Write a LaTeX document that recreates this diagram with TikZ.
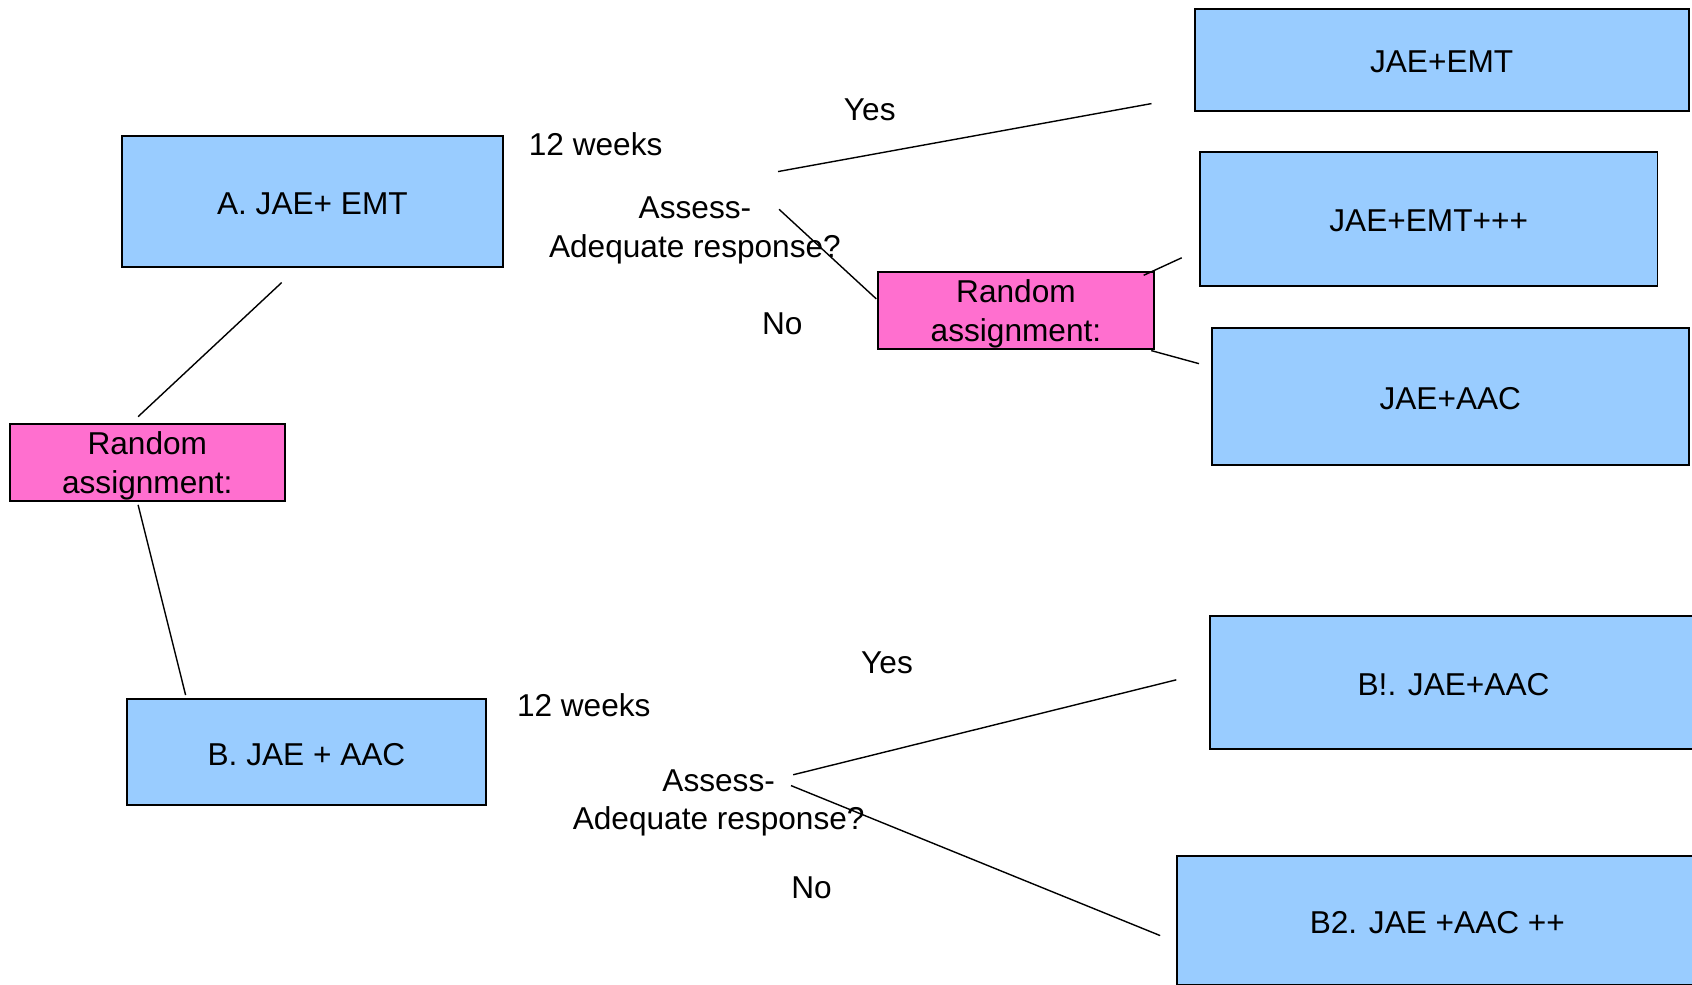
\documentclass[tikz,border=0pt]{standalone}
\usepackage{fontspec}
\setmainfont{Liberation Sans}
\definecolor{armblue}{HTML}{99CCFF}
\definecolor{randpink}{HTML}{FF6FCF}
\tikzset{
  base/.style={font=\fontsize{29.3}{36}\selectfont, align=center},
  armbox/.style={draw=black, line width=1.8pt, fill=armblue, inner sep=0pt},
  randbox/.style={draw=black, line width=1.8pt, fill=randpink, inner sep=0pt},
  lbl/.style={base, inner sep=0pt},
  link/.style={draw=black, line width=1.3pt}
}
\begin{document}
\begin{tikzpicture}[x=1pt,y=-1pt]
\useasboundingbox (0,0) rectangle (1568,912);
\clip (0,0) rectangle (1568,912);
\fill[white] (0,0) rectangle (1568,912);

% first randomisation and the two starting arms
\node[armbox, minimum width=353pt, minimum height=121pt] (A) at (289.5,186.5) {};
\node[lbl] (tA) at ([yshift=-2]A.center) {A. JAE+ EMT};
\node[randbox, minimum width=255pt, minimum height=71pt] (R1) at (136.5,428.5) {};
\node[lbl] (tR1) at ([yshift=-3.5]R1.center) {Random\\assignment:};
\node[armbox, minimum width=332pt, minimum height=98pt] (B) at (284,697) {};
\node[lbl] (tB) at ([yshift=-2]B.center) {B. JAE + AAC};

\draw[link] ([shift={(-28.5,14)}]A.south) -- ([shift={(-8.5,-6)}]R1.north);
\draw[link] ([shift={(-8.5,3)}]R1.south) -- ([shift={(-112,-3)}]B.north);

% arm A: assessment after 12 weeks
\node[lbl] (wa) at (552,134) {12 weeks};
\node[lbl] (qa) at (644,213.5) {Assess-\\Adequate response?};
\node[lbl] (ya) at (806,102) {Yes};
\node[lbl] (na) at (725,300.5) {No};

\node[armbox, minimum width=458pt, minimum height=95pt] (E1) at (1336,55.5) {};
\node[lbl] (tE1) at ([yshift=-1.5]E1.center) {JAE+EMT};
\node[randbox, minimum width=255pt, minimum height=71pt] (R2) at (941.5,287.5) {};
\node[lbl] (tR2) at ([yshift=-3.5]R2.center) {Random\\assignment:};
\node[armbox, minimum width=424pt, minimum height=124pt] (E2) at (1324,203) {};
\node[lbl] (tE2) at ([yshift=-2]E2.center) {JAE+EMT+++};
\node[armbox, minimum width=442pt, minimum height=127pt] (E3) at (1344,367.5) {};
\node[lbl] (tE3) at ([yshift=-2]E3.center) {JAE+AAC};

\draw[link] ([shift={(77,-54.5)}]qa.center) -- ([shift={(-39,40.5)}]E1.west);
\draw[link] ([shift={(78,-19.5)}]qa.center) -- ([shift={(-1,-10.5)}]R2.west);
\draw[link] ([shift={(-10,4)}]R2.north east) -- ([shift={(-16,-27)}]E2.south west);
\draw[link] ([shift={(-3,1)}]R2.south east) -- ([shift={(-11,-30.5)}]E3.west);

% arm B: assessment after 12 weeks
\node[lbl] (wb) at (541,653.5) {12 weeks};
\node[lbl] (qb) at (666,744) {Assess-\\Adequate response?};
\node[lbl] (yb) at (822,614) {Yes};
\node[lbl] (nb) at (752,822.5) {No};

\node[armbox, minimum width=452pt, minimum height=123pt] (B1) at (1347,632.5) {};
\node[lbl] (tB1) at ([yshift=-2]B1.center) {B!. JAE+AAC};
\node[armbox, minimum width=482pt, minimum height=120pt] (B2) at (1332,853) {};
\node[lbl] (tB2) at ([yshift=-2]B2.center) {B2. JAE +AAC ++};

\draw[link] ([shift={(69,-26)}]qb.center) -- ([shift={(-30,-2.5)}]B1.west);
\draw[link] ([shift={(67,-16)}]qb.center) -- ([shift={(-15,14)}]B2.west);
\end{tikzpicture}
\end{document}
